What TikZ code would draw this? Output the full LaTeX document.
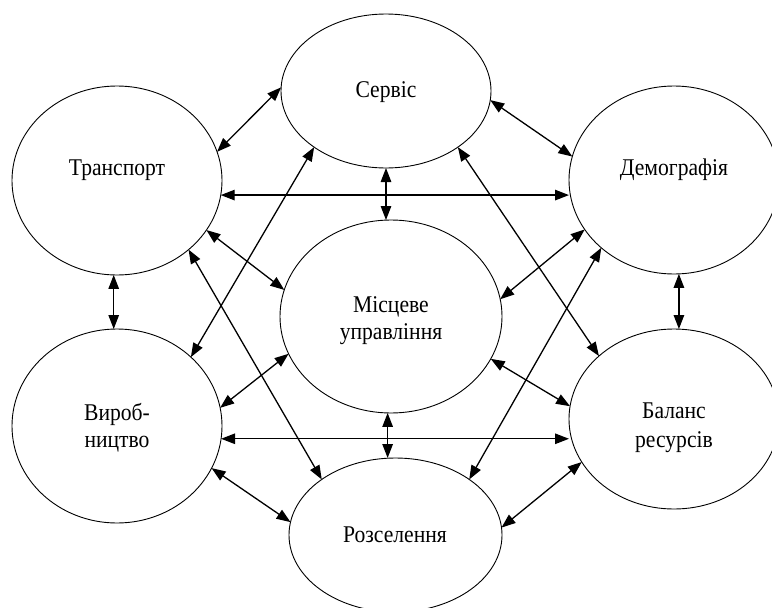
\documentclass[tikz,border=0pt]{standalone}
\usepackage{fontspec}
\setmainfont{Liberation Serif}
\newfontfamily\lblfont[FakeStretch=0.9]{Liberation Serif}
\usetikzlibrary{shapes.geometric,arrows.meta}
\begin{document}
\begin{tikzpicture}[x=1pt,y=-1pt,
  ell/.style={ellipse,draw,line width=0.9pt,inner sep=0pt,outer sep=0pt},
  lbl/.style={anchor=base,inner sep=0pt,font=\lblfont\fontsize{24}{29}\selectfont},
  link/.style={line width=1.3pt,{Triangle[length=14pt,width=10.5pt]}-{Triangle[length=14pt,width=10.5pt]}}]
\useasboundingbox (0,0) rectangle (772,608);
% ellipses
\node[ell,minimum width=210pt,minimum height=154pt] (S) at (386,91) {};
\node[ell,minimum width=210pt,minimum height=189pt] (T) at (117,180.5) {};
\node[ell,minimum width=210pt,minimum height=188pt] (D) at (674,180) {};
\node[ell,minimum width=222pt,minimum height=193pt] (M) at (391,316.5) {};
\node[ell,minimum width=210pt,minimum height=194pt] (V) at (117,426) {};
\node[ell,minimum width=210pt,minimum height=180pt] (B) at (674,419) {};
\node[ell,minimum width=213pt,minimum height=154pt] (R) at (395.5,535) {};
% texts
\node[lbl] (tS) at (386,97) {Сервіс};
\node[lbl] (tT) at (117,175) {Транспорт};
\node[lbl] (tD) at (674,175) {Демографія};
\node[lbl] (tM1) at (391,312) {Місцеве};
\node[lbl] (tM2) at (391,339) {управління};
\node[lbl] (tV1) at (117,420) {Вироб-};
\node[lbl] (tV2) at (117,447) {ництво};
\node[lbl] (tB1) at (674,418) {Баланс};
\node[lbl] (tB2) at (674,447) {ресурсів};
\node[lbl] (tR) at (395,542) {Розселення};
% connectors
\draw[link] (T.16) -- (S.178);
\draw[link] (S.-5) -- (D.167);
\draw[link] (T.-8) -- (D.west |- T.-8);
\draw[link] (S.south) -- (S.south |- M.north);
\draw[link] (T.-92) -- (T.-92 |- V.north);
\draw[link] (D.-87) -- (D.-87 |- B.north);
\draw[link] (T.-29) -- (M.166);
\draw[link] (D.-151) -- (M.9);
\draw[link] (S.-142) -- (V.43);
\draw[link] (T.-44) -- (R.143);
\draw[link] (S.-38) -- (B.140);
\draw[link] (D.-137) -- (R.37);
\draw[link] (M.200) -- (V.10);
\draw[link] (M.-23) -- (B.173);
\draw[link] (V.-7) -- (B.west |- V.-7);
\draw[link] (M.-92) -- (M.-92 |- R.north);
\draw[link] (V.-24) -- (R.173);
\draw[link] (B.205) -- (R.4);
\end{tikzpicture}
\end{document}
